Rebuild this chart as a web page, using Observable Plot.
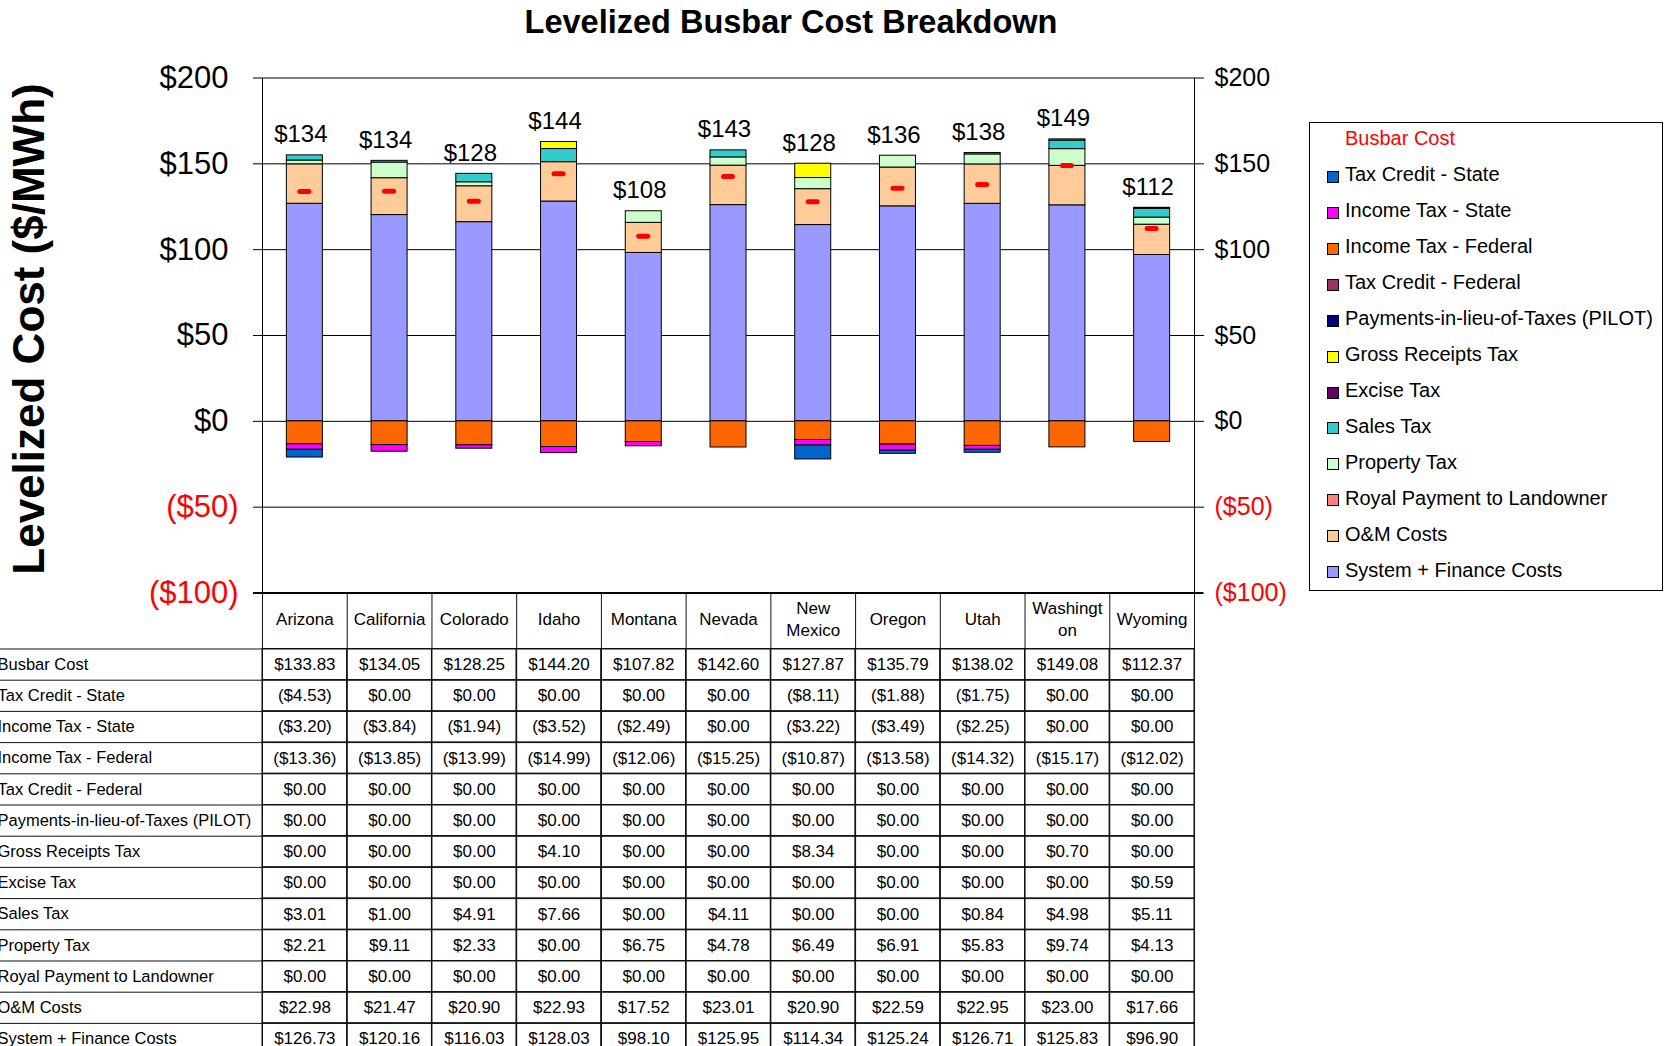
<!DOCTYPE html>
<html><head><meta charset="utf-8">
<script src="https://cdn.jsdelivr.net/npm/d3@7"></script>
<script src="https://cdn.jsdelivr.net/npm/@observablehq/plot@0.6"></script>
<style>
html,body{margin:0;padding:0;background:#fff;overflow:hidden;}
body{width:1665px;height:1046px;position:relative;font-family:"Liberation Sans",Arial,sans-serif;color:#000;}
#main,#table{position:absolute;left:0;}
#main{top:0;z-index:2;}
#table{top:592.5px;z-index:1;}
#title{position:absolute;left:791px;top:6px;transform:translateX(-50%);font-weight:bold;font-size:32.5px;line-height:1;white-space:nowrap;}
#ytitle{position:absolute;left:29px;top:329px;transform:translate(-50%,-50%) rotate(-90deg);font-weight:bold;font-size:44px;line-height:1;white-space:nowrap;}
#legend{position:absolute;left:1309px;top:122px;width:354px;height:469px;box-sizing:border-box;border:1px solid #000;font-size:20px;padding-top:0;}
#legend .row{height:35.95px;display:flex;align-items:center;white-space:nowrap;position:relative;top:-2px;}
#legend .sw{width:10px;height:10px;border:1px solid #000;margin-left:17px;margin-right:6px;position:relative;top:2px;flex:none;}
#legend .head{color:#ff0000;padding-left:35px;}
</style>
</head><body>
<div id="title">Levelized Busbar Cost Breakdown</div>
<div id="ytitle">Levelized Cost ($/MWh)</div>
<div id="main"></div>
<div id="table"></div>
<div id="legend"></div>
<script>
// ---- data ----
const states = ["Arizona","California","Colorado","Idaho","Montana","Nevada","New Mexico","Oregon","Utah","Washington","Wyoming"];
const headerLabels = ["Arizona","California","Colorado","Idaho","Montana","Nevada","New\nMexico","Oregon","Utah","Washingt\non","Wyoming"];
const busbarCost = [133.83,134.05,128.25,144.20,107.82,142.60,127.87,135.79,138.02,149.08,112.37];
const taxCreditState = [-4.53,0,0,0,0,0,-8.11,-1.88,-1.75,0,0];
const incomeTaxState = [-3.20,-3.84,-1.94,-3.52,-2.49,0,-3.22,-3.49,-2.25,0,0];
const incomeTaxFederal = [-13.36,-13.85,-13.99,-14.99,-12.06,-15.25,-10.87,-13.58,-14.32,-15.17,-12.02];
const taxCreditFederal = [0,0,0,0,0,0,0,0,0,0,0];
const pilot = [0,0,0,0,0,0,0,0,0,0,0];
const grossReceiptsTax = [0,0,0,4.10,0,0,8.34,0,0,0.70,0];
const exciseTax = [0,0,0,0,0,0,0,0,0,0,0.59];
const salesTax = [3.01,1.00,4.91,7.66,0,4.11,0,0,0.84,4.98,5.11];
const propertyTax = [2.21,9.11,2.33,0,6.75,4.78,6.49,6.91,5.83,9.74,4.13];
const royalPayment = [0,0,0,0,0,0,0,0,0,0,0];
const omCosts = [22.98,21.47,20.90,22.93,17.52,23.01,20.90,22.59,22.95,23.00,17.66];
const systemFinance = [126.73,120.16,116.03,128.03,98.10,125.95,114.34,125.24,126.71,125.83,96.90];

// stacking order (bottom to top)
const seriesNames = ["System + Finance Costs","O&M Costs","Royal Payment to Landowner","Property Tax","Sales Tax","Excise Tax","Gross Receipts Tax","Payments-in-lieu-of-Taxes (PILOT)","Tax Credit - Federal","Income Tax - Federal","Income Tax - State","Tax Credit - State"];
const seriesValues = [systemFinance,omCosts,royalPayment,propertyTax,salesTax,exciseTax,grossReceiptsTax,pilot,taxCreditFederal,incomeTaxFederal,incomeTaxState,taxCreditState];
const seriesColors = ["#9999ff","#ffcc99","#ff8080","#ccffcc","#33cccc","#660066","#ffff00","#000080","#993366","#ff6600","#ff00ff","#0066cc"];

// table rows
const rowNames = ["Busbar Cost","Tax Credit - State","Income Tax - State","Income Tax - Federal","Tax Credit - Federal","Payments-in-lieu-of-Taxes (PILOT)","Gross Receipts Tax","Excise Tax","Sales Tax","Property Tax","Royal Payment to Landowner","O&M Costs","System + Finance Costs"];
const rowValues = [busbarCost,taxCreditState,incomeTaxState,incomeTaxFederal,taxCreditFederal,pilot,grossReceiptsTax,exciseTax,salesTax,propertyTax,royalPayment,omCosts,systemFinance];

const posTicks = [0,50,100,150,200];
const negTicks = [-50,-100];
const gridTicks = [-50,0,50,100,150];

// ---- build ----
const FONT = '"Liberation Sans", Arial, sans-serif';
const W = 1665, mL = 262, mR = 471;
const bw = (W - mL - mR) / states.length;

const stackData = [];
seriesNames.forEach((s, j) => states.forEach((st, i) => {
  const v = seriesValues[j][i];
  if (v !== 0) stackData.push({series: s, state: st, value: v});
}));
const stackTop = states.map((st, i) => d3.sum(seriesValues, arr => Math.max(0, arr[i])));

const axisFmt = d => d < 0 ? `($${-d})` : `$${d}`;
const cellFmt = v => v < 0 ? `($${(-v).toFixed(2)})` : `$${v.toFixed(2)}`;

const main = Plot.plot({
  width: W, height: 600,
  marginTop: 77.5, marginBottom: 7.5, marginLeft: mL, marginRight: mR,
  style: {background: "transparent", fontFamily: FONT, overflow: "visible", maxWidth: "none", color: "#000"},
  x: {domain: states, paddingInner: 0.575, paddingOuter: 0.2875, round: false, axis: null, label: null},
  y: {domain: [-100, 200], axis: null, label: null},
  color: {domain: seriesNames, range: seriesColors},
  marks: [
    Plot.gridY(gridTicks, {stroke: "#000", strokeOpacity: 1, strokeWidth: 1}),
    Plot.frame({stroke: "#000", strokeWidth: 1}),
    Plot.ruleY([-100], {stroke: "#000", strokeWidth: 2, insetLeft: -9, insetRight: -9}),
    Plot.barY(stackData, {x: "state", y: "value", z: "series", fill: "series", stroke: "#000", strokeWidth: 1, order: seriesNames}),
    Plot.tickY(states, {x: d => d, y: (d, i) => busbarCost[i], stroke: "#ff0000", strokeWidth: 5, strokeLinecap: "round", insetLeft: 13.5, insetRight: 13.5}),
    Plot.text(states, {x: d => d, y: (d, i) => stackTop[i], text: (d, i) => "$" + Math.round(busbarCost[i]), dy: -13, dx: -4, lineAnchor: "bottom", fontSize: 24, fill: "#000"}),
    Plot.axisY(posTicks, {anchor: "left", tickFormat: axisFmt, tickSize: 9, tickPadding: 25, fontSize: 31, label: null, stroke: "#000", fill: "#000"}),
    Plot.axisY(negTicks, {anchor: "left", tickFormat: axisFmt, tickSize: 9, tickPadding: 15, fontSize: 31, label: null, stroke: "#000", fill: "#ff0000"}),
    Plot.axisY(posTicks, {anchor: "right", tickFormat: axisFmt, tickSize: 9, tickPadding: 11, fontSize: 25, label: null, stroke: "#000", fill: "#000"}),
    Plot.axisY(negTicks, {anchor: "right", tickFormat: axisFmt, tickSize: 9, tickPadding: 11, fontSize: 25, label: null, stroke: "#000", fill: "#ff0000"})
  ]
});
document.getElementById("main").appendChild(main);

// table
const rowH = 31.2, headH = 55.5;
const tableData = [];
rowNames.forEach((r, j) => states.forEach((st, i) => tableData.push({row: r, state: st, value: rowValues[j][i]})));
const table = Plot.plot({
  width: W, height: headH + rowNames.length * rowH,
  marginTop: headH, marginBottom: 0, marginLeft: mL, marginRight: mR,
  style: {background: "transparent", fontFamily: FONT, overflow: "visible", maxWidth: "none", color: "#000"},
  x: {domain: states, padding: 0, round: false, axis: null, label: null},
  y: {domain: rowNames, padding: 0, round: false, axis: null, label: null},
  marks: [
    Plot.cell(tableData, {x: "state", y: "row", fill: "none", stroke: "#111", strokeWidth: 1, inset: 0}),
    Plot.ruleY(rowNames, {y: d => d, dy: -rowH / 2, insetLeft: -mL, stroke: "#111", strokeWidth: 1}),
    Plot.ruleX(states, {x: d => d, dx: -bw / 2, insetTop: -headH, stroke: "#111", strokeWidth: 1}),
    Plot.ruleX([states[states.length - 1]], {x: d => d, dx: bw / 2, insetTop: -headH, stroke: "#111", strokeWidth: 1}),
    Plot.text(tableData, {x: "state", y: "row", text: d => cellFmt(d.value), fontSize: 17, fill: "#000"}),
    Plot.axisX({anchor: "top", tickSize: 0, tickPadding: 31, lineAnchor: "middle", lineHeight: 1.3, fontSize: 17, label: null, fill: "#000", tickFormat: d => headerLabels[states.indexOf(d)]}),
    Plot.axisY({anchor: "left", tickSize: 0, tickPadding: 0, textAnchor: "start", dx: -mL - 3, fontSize: 16.5, label: null, fill: "#000"})
  ]
});
document.getElementById("table").appendChild(table);

// legend (top to bottom = reverse stacking order)
const legend = d3.select("#legend");
legend.append("div").attr("class", "row head").text("Busbar Cost");
seriesNames.map((s, j) => ({s, c: seriesColors[j]})).reverse().forEach(({s, c}) => {
  const r = legend.append("div").attr("class", "row");
  r.append("div").attr("class", "sw").style("background", c);
  r.append("span").text(s);
});
</script>
</body></html>
